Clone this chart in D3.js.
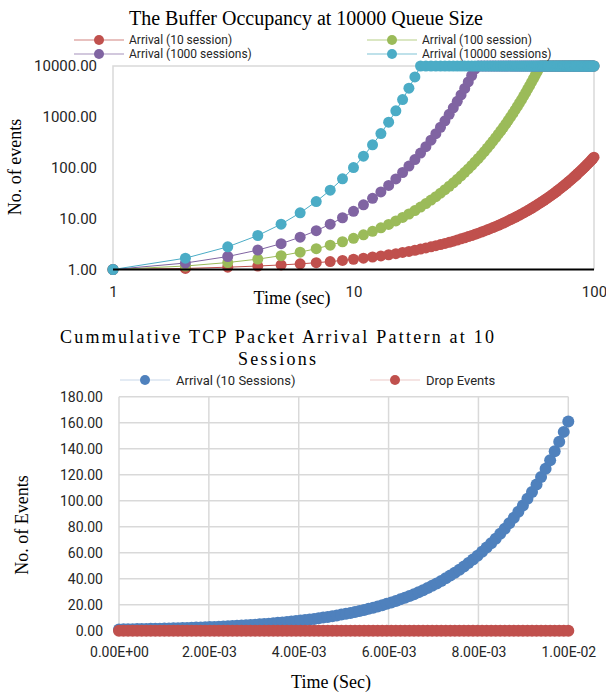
<!DOCTYPE html>
<html>
<head>
<meta charset="utf-8">
<script src="https://cdn.jsdelivr.net/npm/d3@7"></script>
<style>
body {margin:0; background:#fff;}
svg {display:block;}
</style>
</head>
<body>
<svg id="chart"></svg>
<script>
// time steps (sec) of the top chart, also the sample index of the bottom chart
var timeSteps = [1,2,3,4,5,6,7,8,9,10,11,12,13,14,15,16,17,18,19,20,
  21,22,23,24,25,26,27,28,29,30,31,32,33,34,35,36,37,38,39,40,
  41,42,43,44,45,46,47,48,49,50,51,52,53,54,55,56,57,58,59,60,
  61,62,63,64,65,66,67,68,69,70,71,72,73,74,75,76,77,78,79,80,
  81,82,83,84,85,86,87,88,89,90,91,92,93,94,95,96,97,98,99,100]

var arrival10 = [1.00,1.05,1.11,1.17,1.23,1.29,1.36,1.43,1.51,1.59,
  1.67,1.76,1.85,1.95,2.05,2.16,2.27,2.39,2.52,2.65,
  2.79,2.94,3.09,3.26,3.43,3.61,3.80,4.00,4.21,4.43,
  4.66,4.91,5.17,5.44,5.73,6.03,6.35,6.68,7.03,7.40,
  7.79,8.20,8.63,9.09,9.57,10.07,10.60,11.16,11.75,12.37,
  13.02,13.70,14.43,15.19,15.99,16.83,17.71,18.65,19.63,20.66,
  21.75,22.90,24.10,25.37,26.71,28.11,29.59,31.15,32.79,34.52,
  36.34,38.25,40.27,42.39,44.62,46.97,49.45,52.05,54.79,57.68,
  60.71,63.91,67.28,70.82,74.55,78.48,82.61,86.96,91.54,96.36,
  101.44,106.78,112.40,118.32,124.55,131.11,138.02,145.29,152.94,161.00]

var arrival100 = [1.00,1.17,1.37,1.60,1.87,2.19,2.57,3.00,3.51,4.11,
  4.81,5.62,6.58,7.70,9.01,10.54,12.33,14.43,16.88,19.75,
  23.11,27.03,31.63,37.01,43.30,50.66,59.27,69.35,81.13,94.93,
  111.07,129.95,152.04,177.88,208.12,243.51,284.90,333.33,390.00,456.30,
  533.87,624.63,730.82,855.06,1000.42,1170.49,1369.47,1602.28,1874.67,2193.36,
  2566.23,3002.49,3512.91,4110.11,4808.83,5626.33,6582.80,7701.88,9011.20,10000,
  10000,10000,10000,10000,10000,10000,10000,10000,10000,10000,
  10000,10000,10000,10000,10000,10000,10000,10000,10000,10000,
  10000,10000,10000,10000,10000,10000,10000,10000,10000,10000,
  10000,10000,10000,10000,10000,10000,10000,10000,10000,10000]

var arrival1000 = [1.00,1.34,1.80,2.41,3.22,4.32,5.79,7.76,10.40,13.93,
  18.67,25.01,33.52,44.91,60.18,80.64,108.06,144.80,194.04,260.01,
  348.41,466.88,625.61,838.32,1123.40,1505.35,2017.17,2702.99,3622.01,4853.49,
  6503.67,8714.91,10000,10000,10000,10000,10000,10000,10000,10000,
  10000,10000,10000,10000,10000,10000,10000,10000,10000,10000,
  10000,10000,10000,10000,10000,10000,10000,10000,10000,10000,
  10000,10000,10000,10000,10000,10000,10000,10000,10000,10000,
  10000,10000,10000,10000,10000,10000,10000,10000,10000,10000,
  10000,10000,10000,10000,10000,10000,10000,10000,10000,10000,
  10000,10000,10000,10000,10000,10000,10000,10000,10000,10000]

var arrival10000 = [1.00,1.67,2.79,4.66,7.78,12.99,21.69,36.23,60.50,101.03,
  168.72,281.77,470.55,785.82,1312.32,2191.57,3659.92,6112.07,10000,10000,
  10000,10000,10000,10000,10000,10000,10000,10000,10000,10000,
  10000,10000,10000,10000,10000,10000,10000,10000,10000,10000,
  10000,10000,10000,10000,10000,10000,10000,10000,10000,10000,
  10000,10000,10000,10000,10000,10000,10000,10000,10000,10000,
  10000,10000,10000,10000,10000,10000,10000,10000,10000,10000,
  10000,10000,10000,10000,10000,10000,10000,10000,10000,10000,
  10000,10000,10000,10000,10000,10000,10000,10000,10000,10000,
  10000,10000,10000,10000,10000,10000,10000,10000,10000,10000]

var dropEvents = [0,0,0,0,0,0,0,0,0,0, 0,0,0,0,0,0,0,0,0,0,
  0,0,0,0,0,0,0,0,0,0, 0,0,0,0,0,0,0,0,0,0,
  0,0,0,0,0,0,0,0,0,0, 0,0,0,0,0,0,0,0,0,0,
  0,0,0,0,0,0,0,0,0,0, 0,0,0,0,0,0,0,0,0,0,
  0,0,0,0,0,0,0,0,0,0, 0,0,0,0,0,0,0,0,0,0]

var topNames = ["Arrival (10 session)","Arrival (100 session)","Arrival (1000 sessions)","Arrival (10000 sessions)"]
var topColors = ["#C0504D","#9BBB59","#8064A2","#4BACC6"]
var botNames = ["Arrival (10 Sessions)","Drop Events"]
var botColors = ["#4F81BD","#C0504D"]

// tick values + labels
var topYTicks = [1,10,100,1000,10000]
var topYLabels = ["1.00","10.00","100.00","1000.00","10000.00"]
var topXTicks = [1,10,100]
var topXLabels = ["1","10","100"]
var botYTicks = [0,20,40,60,80,100,120,140,160,180]
var botYLabels = ["0.00","20.00","40.00","60.00","80.00","100.00","120.00","140.00","160.00","180.00"]
var botXTicks = [0,0.002,0.004,0.006,0.008,0.01]
var botXLabels = ["0.00E+00","2.00E-03","4.00E-03","6.00E-03","8.00E-03","1.00E-02"]

var serif = "'Liberation Serif','Times New Roman',serif"
var sans = "Roboto,'Open Sans',sans-serif"

var svg = d3.select("#chart").attr("width", 606).attr("height", 693)

//////// top chart: buffer occupancy (log / log)
var topBox = {left:113, right:594, top:66, bottom:269.5}
var xTop = d3.scaleLog().domain([1,100]).range([topBox.left, topBox.right])
var yTop = d3.scaleLog().domain([1,10000]).range([topBox.bottom, topBox.top])

svg.append("text")
  .attr("x", 306).attr("y", 25)
  .attr("text-anchor", "middle")
  .style("font-family", serif).style("font-size", "20px")
  .text("The Buffer Occupancy at 10000 Queue Size")

// grey frame
svg.append("path")
  .attr("d", "M"+xTop(1)+","+yTop(1)+"V"+yTop(10000)+"H"+xTop(100)+"V"+yTop(1))
  .attr("fill", "none").attr("stroke", "#d9d9d9").attr("stroke-width", 1.5)

var topSeries = [arrival10, arrival100, arrival1000, arrival10000]

var topLine = d3.line()
  .x(function(d, i){ return xTop(timeSteps[i]) })
  .y(function(d){ return yTop(d) })

topSeries.forEach(function(series, k){
  var g = svg.append("g")
  g.append("path")
    .datum(series)
    .attr("d", topLine)
    .attr("fill", "none")
    .attr("stroke", topColors[k])
    .attr("stroke-width", 1)
  g.selectAll("circle")
    .data(series)
    .enter()
    .append("circle")
    .attr("cx", function(d, i){ return xTop(timeSteps[i]) })
    .attr("cy", function(d){ return yTop(d) })
    .attr("r", 5.5)
    .attr("fill", topColors[k])
})

// black base line at 1.00
svg.append("line")
  .attr("x1", xTop(1)).attr("x2", xTop(100))
  .attr("y1", yTop(1)).attr("y2", yTop(1))
  .attr("stroke", "#000").attr("stroke-width", 2)

var topYAxis = d3.axisLeft(yTop).tickValues(topYTicks)
  .tickFormat(function(d, i){ return topYLabels[i] })
  .tickSize(0).tickPadding(16)
svg.append("g").attr("transform", "translate("+topBox.left+",0)").call(topYAxis)
  .call(function(g){ g.select(".domain").remove() })
  .selectAll("text").style("font-family", sans).style("font-size", "15px").attr("fill", "#262626")

var topXAxis = d3.axisBottom(xTop).tickValues(topXTicks)
  .tickFormat(function(d, i){ return topXLabels[i] })
  .tickSize(0).tickPadding(17)
svg.append("g").attr("transform", "translate(0,"+topBox.bottom+")").call(topXAxis)
  .call(function(g){ g.select(".domain").remove() })
  .selectAll("text").style("font-family", sans).style("font-size", "15px").attr("fill", "#262626")

svg.append("text")
  .attr("x", 292).attr("y", 304)
  .attr("text-anchor", "middle")
  .style("font-family", serif).style("font-size", "18px")
  .text("Time (sec)")

svg.append("text")
  .attr("transform", "translate(21,167) rotate(-90)")
  .attr("text-anchor", "middle")
  .style("font-family", serif).style("font-size", "18px")
  .text("No. of events")

// legend top (2 x 2)
topNames.forEach(function(name, k){
  var lx = (k % 2 == 0) ? 74 : 367
  var ly = (k < 2) ? 40 : 54
  svg.append("line").attr("x1", lx).attr("x2", lx+50).attr("y1", ly).attr("y2", ly)
    .attr("stroke", topColors[k]).attr("stroke-width", 1.2).attr("opacity", 0.7)
  svg.append("circle").attr("cx", lx+25).attr("cy", ly).attr("r", 5).attr("fill", topColors[k])
  svg.append("text").attr("x", lx+55).attr("y", ly).attr("dy", "0.35em")
    .style("font-family", sans).style("font-size", "12px").attr("fill", "#262626")
    .text(name)
})

//////// bottom chart: cumulative arrival
var botBox = {left:119, right:568.3, top:396.7, bottom:630.7}
var xSec = d3.scaleLinear().domain([0, 0.01]).range([botBox.left, botBox.right])
var xSample = d3.scaleLinear().domain([1, 100]).range([botBox.left, botBox.right])
var yBot = d3.scaleLinear().domain([0, 180]).range([botBox.bottom, botBox.top])

svg.append("text")
  .attr("x", 277).attr("y", 343)
  .attr("text-anchor", "middle")
  .attr("textLength", 434).attr("lengthAdjust", "spacing")
  .style("font-family", serif).style("font-size", "18px")
  .text("Cummulative TCP Packet Arrival Pattern at 10")
svg.append("text")
  .attr("x", 277).attr("y", 365)
  .attr("text-anchor", "middle")
  .attr("textLength", 78).attr("lengthAdjust", "spacing")
  .style("font-family", serif).style("font-size", "18px")
  .text("Sessions")

// grid
svg.append("g").selectAll("line").data(botYTicks).enter().append("line")
  .attr("x1", botBox.left).attr("x2", botBox.right)
  .attr("y1", function(d){ return yBot(d) }).attr("y2", function(d){ return yBot(d) })
  .attr("stroke", "#d9d9d9").attr("stroke-width", 1.5)
svg.append("g").selectAll("line").data(botXTicks).enter().append("line")
  .attr("x1", function(d){ return xSec(d) }).attr("x2", function(d){ return xSec(d) })
  .attr("y1", botBox.top).attr("y2", botBox.bottom)
  .attr("stroke", "#d9d9d9").attr("stroke-width", 1.5)

var botLine = d3.line()
  .x(function(d, i){ return xSample(timeSteps[i]) })
  .y(function(d){ return yBot(d) })

var botSeries = [arrival10, dropEvents]
botSeries.forEach(function(series, k){
  var g = svg.append("g")
  g.append("path").datum(series).attr("d", botLine)
    .attr("fill", "none").attr("stroke", botColors[k]).attr("stroke-width", 1).attr("opacity", 0.4)
  g.selectAll("circle").data(series).enter().append("circle")
    .attr("cx", function(d, i){ return xSample(timeSteps[i]) })
    .attr("cy", function(d){ return yBot(d) })
    .attr("r", 6)
    .attr("fill", botColors[k])
})

var botYAxis = d3.axisLeft(yBot).tickValues(botYTicks)
  .tickFormat(function(d, i){ return botYLabels[i] })
  .tickSize(0).tickPadding(16)
svg.append("g").attr("transform", "translate("+botBox.left+",0)").call(botYAxis)
  .call(function(g){ g.select(".domain").remove() })
  .selectAll("text").style("font-family", sans).style("font-size", "14px").attr("fill", "#262626")

var botXAxis = d3.axisBottom(xSec).tickValues(botXTicks)
  .tickFormat(function(d, i){ return botXLabels[i] })
  .tickSize(0).tickPadding(16)
svg.append("g").attr("transform", "translate(0,"+botBox.bottom+")").call(botXAxis)
  .call(function(g){ g.select(".domain").remove() })
  .selectAll("text").style("font-family", sans).style("font-size", "14px").attr("fill", "#262626")

svg.append("text")
  .attr("x", 331).attr("y", 688)
  .attr("text-anchor", "middle")
  .style("font-family", serif).style("font-size", "18px")
  .text("Time (Sec)")

svg.append("text")
  .attr("transform", "translate(28,525) rotate(-90)")
  .attr("text-anchor", "middle")
  .style("font-family", serif).style("font-size", "18px")
  .text("No. of Events")

// legend bottom
botNames.forEach(function(name, k){
  var lx = (k == 0) ? 120 : 370
  var ly = 380
  svg.append("line").attr("x1", lx).attr("x2", lx+50).attr("y1", ly).attr("y2", ly)
    .attr("stroke", botColors[k]).attr("stroke-width", 1).attr("opacity", 0.3)
  svg.append("circle").attr("cx", lx+25).attr("cy", ly).attr("r", 5).attr("fill", botColors[k])
  svg.append("text").attr("x", lx+56).attr("y", ly).attr("dy", "0.35em")
    .style("font-family", sans).style("font-size", "13px").attr("fill", "#262626")
    .text(name)
})
</script>
</body>
</html>
